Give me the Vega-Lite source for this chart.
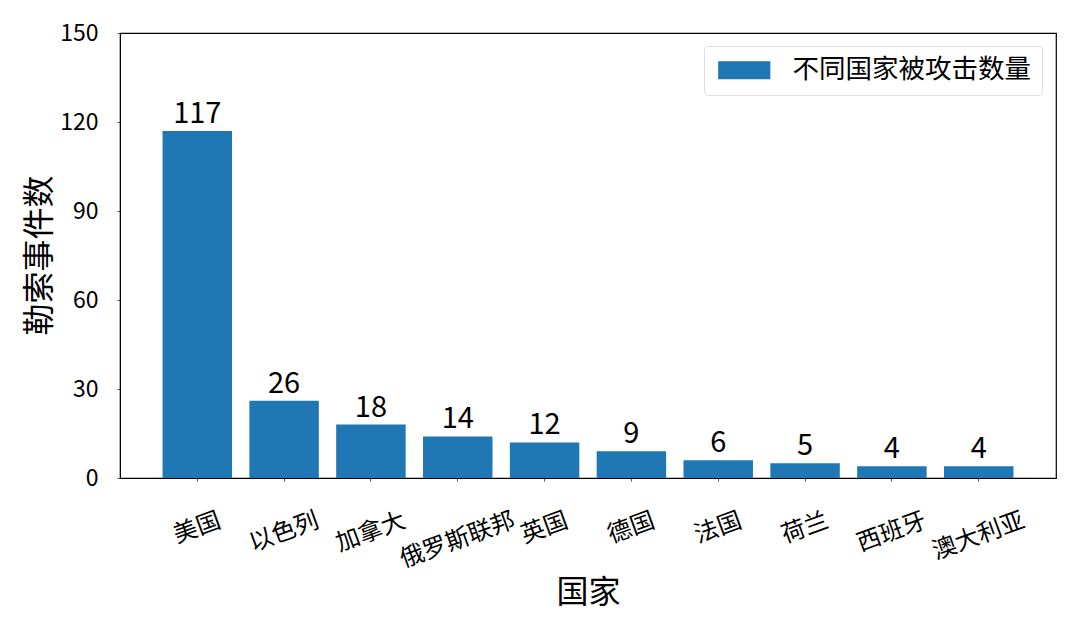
{
  "$schema": "https://vega.github.io/schema/vega-lite/v6.json",
  "autosize": "none",
  "width": 936,
  "height": 445,
  "padding": {"left": 120, "top": 33, "right": 24, "bottom": 154},
  "background": "white",
  "config": {
    "font": "Noto Sans CJK SC",
    "view": {"stroke": "black", "strokeWidth": 1.2},
    "axis": {"labelFont": "Noto Sans CJK SC", "titleFont": "Noto Sans CJK SC", "labelColor": "black", "titleColor": "black", "titleFontWeight": "normal", "domainColor": "black", "tickColor": "#555", "tickSize": 3, "grid": false}
  },
  "data": {
    "values": [
      {"country": "美国", "value": 117, "series": "不同国家被攻击数量"},
      {"country": "以色列", "value": 26, "series": "不同国家被攻击数量"},
      {"country": "加拿大", "value": 18, "series": "不同国家被攻击数量"},
      {"country": "俄罗斯联邦", "value": 14, "series": "不同国家被攻击数量"},
      {"country": "英国", "value": 12, "series": "不同国家被攻击数量"},
      {"country": "德国", "value": 9, "series": "不同国家被攻击数量"},
      {"country": "法国", "value": 6, "series": "不同国家被攻击数量"},
      {"country": "荷兰", "value": 5, "series": "不同国家被攻击数量"},
      {"country": "西班牙", "value": 4, "series": "不同国家被攻击数量"},
      {"country": "澳大利亚", "value": 4, "series": "不同国家被攻击数量"}
    ]
  },
  "encoding": {
    "x": {
      "field": "country", "type": "nominal", "sort": null,
      "scale": {"paddingInner": 0.2, "paddingOuter": 0.49},
      "axis": {
        "title": "国家", "titleFontSize": 32, "titleX": 468, "titleY": 114, "titleBaseline": "middle", "titleAlign": "center",
        "labelAngle": -20, "labelAlign": "center", "labelBaseline": "middle", "labelFontSize": 24,
        "labelPadding": {"condition": [
          {"test": "length(datum.label) == 3", "value": 51},
          {"test": "length(datum.label) == 4", "value": 55},
          {"test": "length(datum.label) == 5", "value": 59}
        ], "value": 47}
      }
    },
    "y": {
      "field": "value", "type": "quantitative",
      "scale": {"domain": [0, 150], "nice": false},
      "axis": {
        "values": [0, 30, 60, 90, 120, 150], "title": "勒索事件数", "titleFontSize": 32,
        "titleAngle": -90, "titleX": -81, "titleY": 222, "titleAlign": "center", "titleBaseline": "middle",
        "labelFontSize": 23, "labelPadding": 19
      }
    }
  },
  "layer": [
    {
      "mark": {"type": "bar", "color": "#1f77b4"},
      "encoding": {
        "color": {
          "field": "series", "type": "nominal",
          "scale": {"range": ["#1f77b4"]},
          "legend": {
            "title": null, "orient": "none", "legendX": 584, "legendY": 13,
            "symbolType": "M-2.9,-1H2.9V1H-2.9Z", "symbolSize": 324, "symbolStrokeWidth": 0, "symbolOpacity": 1,
            "symbolOffset": 16,
            "labelFontSize": 26.5, "labelFont": "Noto Sans CJK SC", "labelColor": "black", "labelOffset": 35, "labelLimit": 500,
            "strokeColor": "#dddddd", "cornerRadius": 4, "padding": 11, "fillColor": "white"
          }
        }
      }
    },
    {
      "mark": {"type": "text", "baseline": "alphabetic", "dy": -8, "fontSize": 29, "font": "Noto Sans CJK SC", "color": "black"},
      "encoding": {"text": {"field": "value", "type": "quantitative"}}
    }
  ]
}
